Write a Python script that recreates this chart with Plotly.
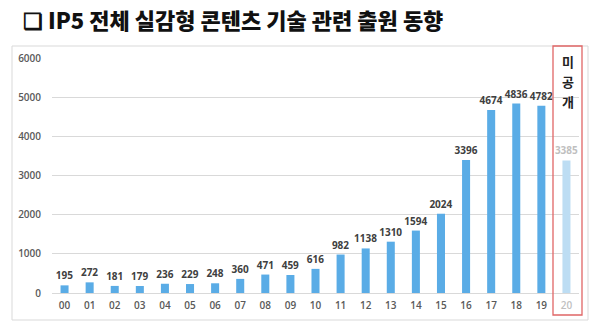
import plotly.graph_objects as go

years = ["00","01","02","03","04","05","06","07","08","09","10",
         "11","12","13","14","15","16","17","18","19","20"]
values = [195,272,181,179,236,229,248,360,471,459,616,
          982,1138,1310,1594,2024,3396,4674,4836,4782,3385]
y_ticks = [0,1000,2000,3000,4000,5000,6000]
title_text = "❏ IP5 전체 실감형 콘텐츠 기술 관련 출원 동향"
note_chars = ["미", "공", "개"]

bar_main = "#5AACE6"
bar_light = "#BDDDF3"
colors = [bar_main]*(len(years)-1) + [bar_light]
text_colors = ["#404040"]*(len(years)-1) + ["#BFBFBF"]
tick_text = [y if i < len(years)-1 else f"<span style='color:#BFBFBF'>{y}</span>"
             for i, y in enumerate(years)]

fig = go.Figure()
fig.add_trace(go.Bar(
    x=years, y=values,
    marker=dict(color=colors, line=dict(width=0)),
    width=0.32,
    text=[str(v) for v in values],
    textposition="outside",
    constraintext="none",
    cliponaxis=False,
    textfont=dict(family="Open Sans", size=10, color=text_colors, weight="bold"),
    hoverinfo="skip",
))

W, H = 600, 324
ml, mr, mt, mb = 52, 21, 58, 31
fig.update_layout(
    width=W, height=H,
    margin=dict(l=ml, r=mr, t=mt, b=mb),
    paper_bgcolor="white", plot_bgcolor="white",
    showlegend=False,
    xaxis=dict(
        type="category", showgrid=False, showline=False, ticks="",
        tickvals=years, ticktext=tick_text,
        tickfont=dict(family="Open Sans", size=10, color="#595959", weight=600),
        ticklabelstandoff=5,
    ),
    yaxis=dict(
        range=[0, 6000], tickvals=y_ticks, ticktext=[str(t) for t in y_ticks],
        showgrid=True, gridcolor="#D9D9D9", gridwidth=1,
        zeroline=True, zerolinecolor="#D9D9D9", zerolinewidth=1,
        showline=False, ticks="",
        tickfont=dict(family="Open Sans", size=10, color="#595959", weight=600),
        ticklabelstandoff=10,
    ),
)

pw, ph = W - ml - mr, H - mt - mb
def fx(xp):
    return (xp - ml) / pw
def fy(yp):
    return (H - mb - yp) / ph

shapes = [
    dict(type="rect", xref="paper", yref="paper",
         x0=fx(12), x1=fx(588), y0=fy(320), y1=fy(46),
         line=dict(color="#D9D9D9", width=1), fillcolor="rgba(0,0,0,0)", layer="below"),
    dict(type="rect", xref="paper", yref="paper",
         x0=fx(553), x1=fx(582), y0=fy(315), y1=fy(46),
         line=dict(color="#E06666", width=1.3), fillcolor="rgba(0,0,0,0)"),
]
fig.update_layout(shapes=shapes)

annotations = [
    dict(text=title_text, xref="paper", yref="paper",
         x=fx(21), y=fy(19),
         xanchor="left", yanchor="middle", showarrow=False,
         font=dict(family="Noto Sans CJK KR", size=22, color="#111111", weight=900)),
]
for i, ch in enumerate(note_chars):
    yc = 61 + 20*i
    annotations.append(dict(
        text=ch, xref="paper", yref="paper",
        x=fx(567.5), y=fy(yc),
        xanchor="center", yanchor="middle", showarrow=False,
        font=dict(family="Noto Sans CJK KR", size=13, color="#222222", weight="bold")))
fig.update_layout(annotations=annotations)

fig.write_html("out.html")
